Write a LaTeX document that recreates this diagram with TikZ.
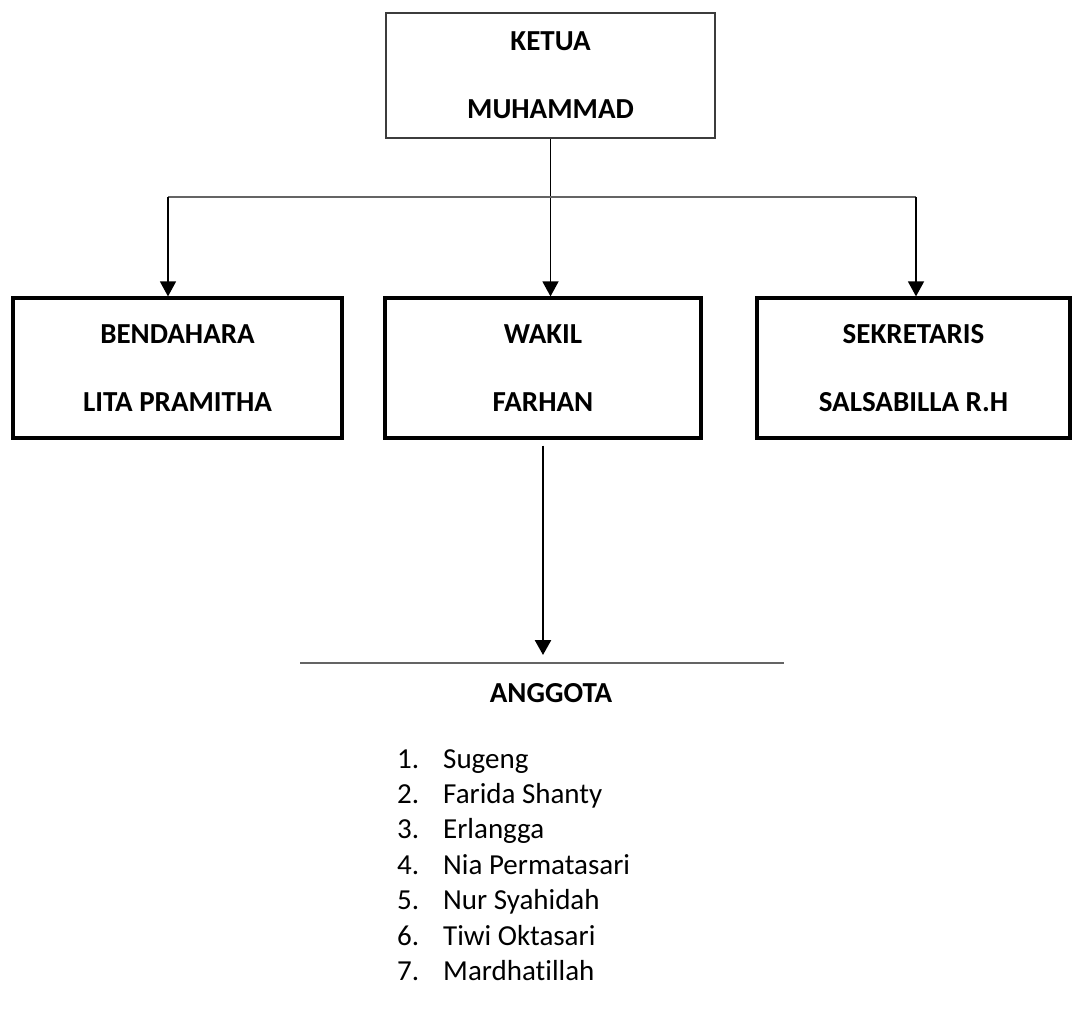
\documentclass[tikz,border=0pt]{standalone}
\usepackage{fontspec}
\setmainfont[Ligatures=NoCommon]{Carlito}
\usetikzlibrary{arrows.meta, positioning, calc}
\usepackage{xcolor}
\definecolor{ketuagray}{RGB}{60, 60, 60}
\definecolor{rulegray}{RGB}{100, 100, 100}
\tikzstyle{ketuabox} = [draw=ketuagray, line width=1.6pt, minimum width=329pt, minimum height=125pt, inner sep=0pt, align=center, font=\fontsize{29}{68}\selectfont\bfseries]
\tikzstyle{rolebox} = [draw, line width=3.2pt, minimum height=140pt, inner sep=0pt, align=center, font=\fontsize{29}{68.5}\selectfont\bfseries]
\tikzstyle{arrow} = [line width=1.4pt, -{Triangle[width=16pt,length=15pt]}]
\tikzstyle{bigarrow} = [line width=2.6pt, -{Triangle[width=16pt,length=15pt]}]
\tikzstyle{member} = [anchor=base west, inner sep=0pt, font=\fontsize{29}{35}\selectfont]

\begin{document}
\begin{tikzpicture}[x=1pt, y=-1pt]
\useasboundingbox (0,0) rectangle (1073,1026);

% Ketua on top
\node[ketuabox] (ketua) at (550.5,75.5) {KETUA\\MUHAMMAD};

% Bendahara, wakil, sekretaris
\foreach \name/\x/\w/\role/\who in {bend/177.5/329/BENDAHARA/LITA PRAMITHA, wakil/543/316/WAKIL/FARHAN, sekr/913.5/313/SEKRETARIS/SALSABILLA R.H} {
    \node[rolebox, minimum width=\w pt] (\name) at (\x,368) {\role\\\who};
}

% Connectors from ketua
\coordinate (split) at (551,197);
\draw[arrow] (ketua.south) -- (ketua.south |- wakil.north);
\draw[line width=1.4pt, rulegray] (split) -- ++(-383,0) coordinate (splitL);
\draw[line width=1.4pt, rulegray] (split) -- ++(365,0) coordinate (splitR);
\draw[arrow] (splitL) -- (splitL |- bend.north);
\draw[arrow] (splitR) -- (splitR |- sekr.north);

% Anggota
\draw[line width=2pt, rulegray] (300,663) coordinate (ruleL) -- (784,663) coordinate (ruleR);
\draw[bigarrow] ([yshift=-6pt]wakil.south) -- ([yshift=8pt]wakil.south |- ruleL);
\node[anchor=base, inner sep=0pt, font=\fontsize{29}{35}\selectfont\bfseries] (anggota) at (551,702) {ANGGOTA};

\foreach \i/\who in {1/Sugeng, 2/Farida Shanty, 3/Erlangga, 4/Nia Permatasari, 5/Nur Syahidah, 6/Tiwi Oktasari, 7/Mardhatillah} {
    \node[member] (num\i) at (397,{768+35.4*(\i-1)}) {\i.};
    \node[member] (mem\i) at (443,{768+35.4*(\i-1)}) {\who};
}
\end{tikzpicture}
\end{document}
